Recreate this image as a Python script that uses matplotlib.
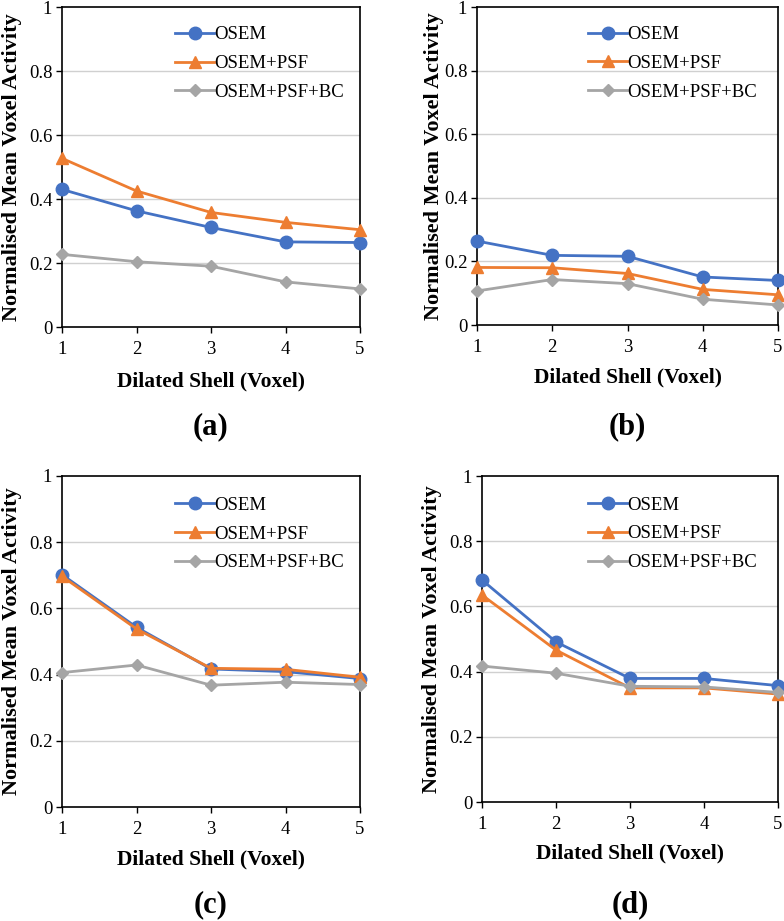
import matplotlib
matplotlib.use("Agg")
import matplotlib.pyplot as plt

plt.rcParams['font.family'] = ['Liberation Serif', 'DejaVu Serif']

shells = [1, 2, 3, 4, 5]
series_names = ["OSEM", "OSEM+PSF", "OSEM+PSF+BC"]

osem_a = [0.430, 0.363, 0.311, 0.266, 0.264]
psf_a = [0.527, 0.425, 0.358, 0.327, 0.304]
bc_a = [0.227, 0.204, 0.190, 0.141, 0.119]

osem_b = [0.264, 0.219, 0.216, 0.151, 0.140]
psf_b = [0.181, 0.180, 0.162, 0.112, 0.095]
bc_b = [0.107, 0.143, 0.130, 0.081, 0.063]

osem_c = [0.702, 0.543, 0.417, 0.409, 0.388]
psf_c = [0.697, 0.538, 0.419, 0.416, 0.392]
bc_c = [0.406, 0.429, 0.368, 0.377, 0.370]

osem_d = [0.681, 0.491, 0.379, 0.379, 0.357]
psf_d = [0.635, 0.466, 0.350, 0.350, 0.331]
bc_d = [0.417, 0.395, 0.355, 0.353, 0.336]

panel_labels = ["(a)", "(b)", "(c)", "(d)"]
ytick_vals = [0, 0.2, 0.4, 0.6, 0.8, 1]
ytick_labels = ["0", "0.2", "0.4", "0.6", "0.8", "1"]

colors = ["#4472C4", "#ED7D31", "#A5A5A5"]
markers = ["o", "^", "D"]
msizes = [9, 9, 6]

W, H = 784, 921
fig = plt.figure(figsize=(W / 100, H / 100), dpi=100)

# panel geometry in pixels: left, right, top, bottom
geo = [
    (62, 360, 7, 327),
    (477, 778, 7, 325),
    (62, 360, 476, 807),
    (482, 778, 476, 802),
]
ylab_x = [12, 434, 12, 432]
xlab_y = [381, 377, 859, 853]
cap_y = [427, 427, 905, 905]
leg_anchor = [(0.379, 0.94), (0.369, 0.94), (0.379, 0.937), (0.358, 0.937)]

data = [
    (osem_a, psf_a, bc_a),
    (osem_b, psf_b, bc_b),
    (osem_c, psf_c, bc_c),
    (osem_d, psf_d, bc_d),
]

for i, (l, r, t, b) in enumerate(geo):
    ax = fig.add_axes([l / W, 1 - b / H, (r - l) / W, (b - t) / H])
    for vals, name, c, m, ms in zip(data[i], series_names, colors, markers, msizes):
        ax.plot(shells, vals, color=c, marker=m, markersize=ms, linewidth=2.0,
                label=name, clip_on=False, zorder=3)
    ax.set_xlim(1, 5)
    ax.set_ylim(0, 1)
    ax.set_xticks(shells)
    ax.set_xticklabels([str(s) for s in shells])
    ax.set_yticks(ytick_vals)
    ax.set_yticklabels(ytick_labels)
    ax.tick_params(axis='both', labelsize=13.5, direction='out', length=4, width=1, colors='black')
    ax.tick_params(axis='x', pad=6)
    ax.tick_params(axis='y', pad=3)
    for y in [0.2, 0.4, 0.6, 0.8]:
        ax.axhline(y, color='#D0D0D0', linewidth=1.0, zorder=1)
    for s in ax.spines.values():
        s.set_color('black')
        s.set_linewidth(1.2)
    ax.legend(loc='upper left', bbox_to_anchor=leg_anchor[i], frameon=False,
              fontsize=13.5, handlelength=2.1, handletextpad=0.0,
              labelspacing=0.62, borderpad=0, borderaxespad=0)
    fig.text(ylab_x[i] / W, 1 - ((t + b) / 2) / H, "Normalised Mean Voxel Activity",
             rotation=90, ha='center', va='center', fontsize=16, fontweight='bold')
    fig.text(((l + r) / 2) / W, 1 - xlab_y[i] / H, "Dilated Shell (Voxel)",
             ha='center', va='center', fontsize=15.5, fontweight='bold')
    fig.text(((l + r) / 2) / W, 1 - cap_y[i] / H, panel_labels[i],
             ha='center', va='center', fontsize=22, fontweight='bold')

fig.savefig("out.png", dpi=100)
